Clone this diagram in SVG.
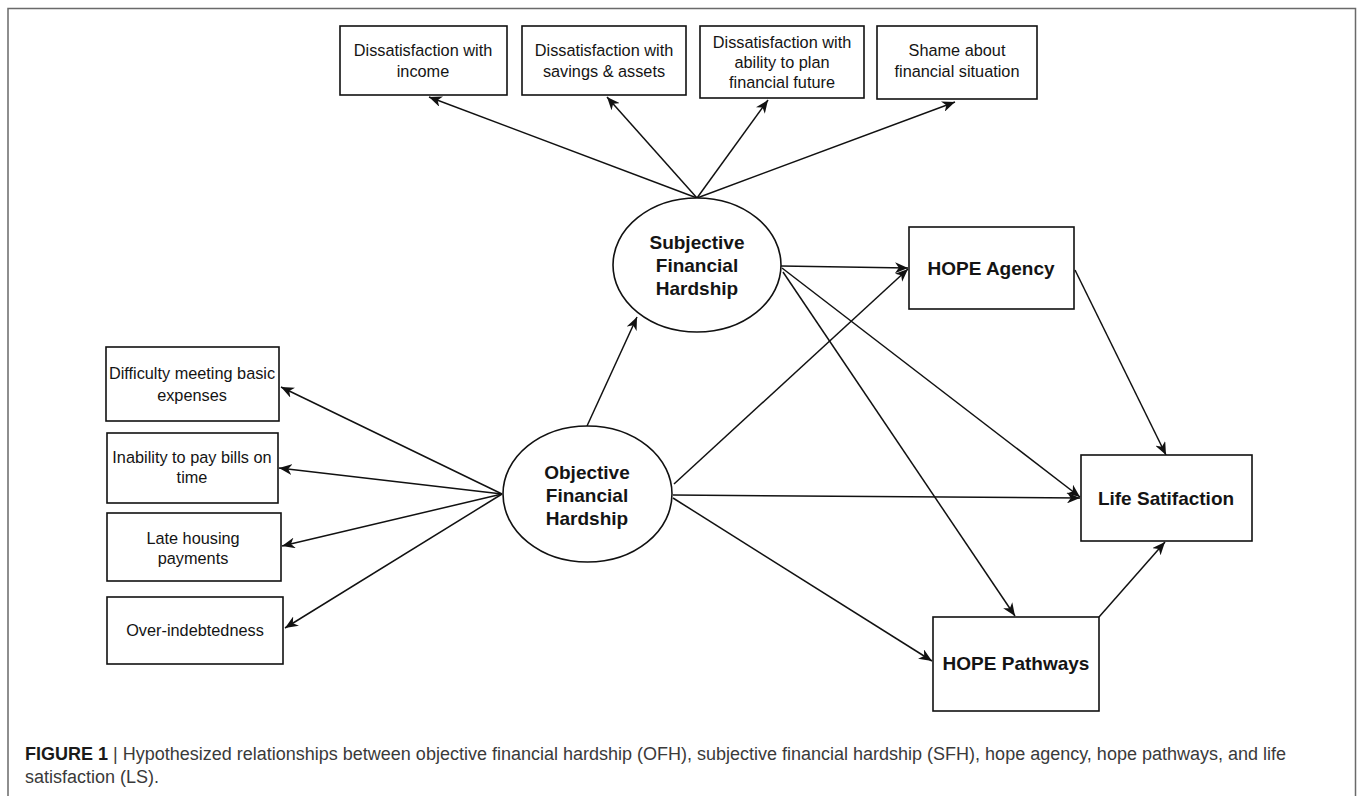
<svg xmlns="http://www.w3.org/2000/svg" width="1358" height="796" viewBox="0 0 1358 796">
  <style>
    .frame { fill: none; stroke: #6a6a6a; stroke-width: 1.5; }
    .box { fill: #ffffff; stroke: #111111; stroke-width: 1.6; }
    .latent { fill: #ffffff; stroke: #111111; stroke-width: 1.6; }
    .edge { fill: none; stroke: #111111; stroke-width: 1.5; marker-end: url(#arrow); }
    .ind { font-family: "Liberation Sans", Arial, sans-serif; font-size: 16.3px; fill: #141414; text-anchor: middle; dominant-baseline: central; }
    .lbl { font-family: "Liberation Sans", Arial, sans-serif; font-size: 19px; font-weight: bold; fill: #141414; text-anchor: middle; dominant-baseline: central; }
    .cap { font-family: "Liberation Sans", Arial, sans-serif; font-size: 18px; fill: #3a3a3a; }
    .capb { font-weight: bold; fill: #1a1a1a; }
  </style>
  <defs>
    <marker id="arrow" markerUnits="userSpaceOnUse" markerWidth="14" markerHeight="11" refX="13" refY="5.5" orient="auto">
      <path d="M0,0 L13,5.5 L0,11 L3.8,5.5 Z" fill="#111111"/>
    </marker>
  </defs>

  <rect width="1358" height="796" fill="#ffffff"/>
  <!-- figure frame (open at the bottom edge) -->
  <path class="frame" d="M8,800 L8,8.5 L1355.5,8.5 L1355.5,800"/>

  <!-- connectors -->
  <g id="connectors">
    <!-- SFH indicators -->
    <line class="edge" x1="697" y1="198" x2="429" y2="97"/>
    <line class="edge" x1="697" y1="198" x2="607" y2="97"/>
    <line class="edge" x1="697" y1="198" x2="768" y2="100"/>
    <line class="edge" x1="697" y1="198" x2="955" y2="102"/>
    <!-- OFH indicators -->
    <line class="edge" x1="502" y1="494" x2="281" y2="387"/>
    <line class="edge" x1="502" y1="494" x2="279" y2="468"/>
    <line class="edge" x1="502" y1="494" x2="282" y2="546"/>
    <line class="edge" x1="502" y1="494" x2="285" y2="628"/>
    <!-- structural paths -->
    <line class="edge" x1="587" y1="426" x2="637" y2="317"/>
    <line class="edge" x1="781" y1="266" x2="908" y2="268"/>
    <line class="edge" x1="674" y1="484" x2="908" y2="269"/>
    <line class="edge" x1="782" y1="268" x2="1080" y2="497"/>
    <line class="edge" x1="783" y1="272" x2="1015" y2="616"/>
    <line class="edge" x1="673" y1="495" x2="1080" y2="498"/>
    <line class="edge" x1="673" y1="498" x2="932" y2="661"/>
    <line class="edge" x1="1075" y1="270" x2="1166" y2="455"/>
    <line class="edge" x1="1099" y1="617" x2="1165" y2="542"/>
  </g>

  <!-- subjective hardship indicators -->
  <g id="sfh-income">
    <rect class="box" x="340" y="26" width="167" height="69"/>
    <text class="ind" x="423" y="50">Dissatisfaction with</text>
    <text class="ind" x="423" y="71">income</text>
  </g>
  <g id="sfh-savings">
    <rect class="box" x="522" y="26" width="164" height="69"/>
    <text class="ind" x="604" y="50">Dissatisfaction with</text>
    <text class="ind" x="604" y="71">savings &amp; assets</text>
  </g>
  <g id="sfh-plan">
    <rect class="box" x="700" y="26" width="164" height="72"/>
    <text class="ind" x="782" y="42">Dissatisfaction with</text>
    <text class="ind" x="782" y="62">ability to plan</text>
    <text class="ind" x="782" y="82">financial future</text>
  </g>
  <g id="sfh-shame">
    <rect class="box" x="877" y="26" width="160" height="73"/>
    <text class="ind" x="957" y="50">Shame about</text>
    <text class="ind" x="957" y="71">financial situation</text>
  </g>

  <!-- objective hardship indicators -->
  <g id="ofh-expenses">
    <rect class="box" x="106" y="347" width="173" height="74"/>
    <text class="ind" x="192" y="373">Difficulty meeting basic</text>
    <text class="ind" x="192" y="395">expenses</text>
  </g>
  <g id="ofh-bills">
    <rect class="box" x="107" y="433" width="171" height="70"/>
    <text class="ind" x="192" y="457">Inability to pay bills on</text>
    <text class="ind" x="192" y="477">time</text>
  </g>
  <g id="ofh-housing">
    <rect class="box" x="107" y="513" width="174" height="68"/>
    <text class="ind" x="193" y="538">Late housing</text>
    <text class="ind" x="193" y="558">payments</text>
  </g>
  <g id="ofh-debt">
    <rect class="box" x="107" y="597" width="176" height="67"/>
    <text class="ind" x="195" y="630">Over-indebtedness</text>
  </g>

  <!-- latent constructs -->
  <g id="sfh">
    <ellipse class="latent" cx="697" cy="265" rx="84" ry="67"/>
    <text class="lbl" x="697" y="242">Subjective</text>
    <text class="lbl" x="697" y="265">Financial</text>
    <text class="lbl" x="697" y="288">Hardship</text>
  </g>
  <g id="ofh">
    <ellipse class="latent" cx="587.5" cy="494" rx="84.5" ry="68"/>
    <text class="lbl" x="587" y="472">Objective</text>
    <text class="lbl" x="587" y="495">Financial</text>
    <text class="lbl" x="587" y="518">Hardship</text>
  </g>

  <!-- outcomes -->
  <g id="hope-agency">
    <rect class="box" x="909" y="227" width="165" height="82"/>
    <text class="lbl" x="991" y="268">HOPE Agency</text>
  </g>
  <g id="life-satisfaction">
    <rect class="box" x="1081" y="455" width="171" height="86"/>
    <text class="lbl" x="1166" y="498">Life Satifaction</text>
  </g>
  <g id="hope-pathways">
    <rect class="box" x="933" y="617" width="166" height="94"/>
    <text class="lbl" x="1016" y="663">HOPE Pathways</text>
  </g>

  <!-- caption -->
  <g id="caption">
    <text class="cap" x="25" y="760"><tspan class="capb">FIGURE 1</tspan> | Hypothesized relationships between objective financial hardship (OFH), subjective financial hardship (SFH), hope agency, hope pathways, and life</text>
    <text class="cap" x="25" y="783">satisfaction (LS).</text>
  </g>
</svg>
